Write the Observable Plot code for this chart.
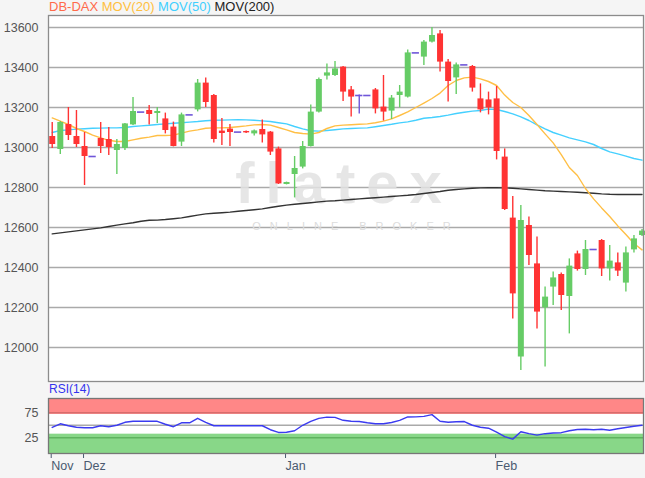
<!DOCTYPE html>
<html><head><meta charset="utf-8">
<script src="https://cdn.jsdelivr.net/npm/d3@7"></script>
<script src="https://cdn.jsdelivr.net/npm/@observablehq/plot@0.6"></script>
<style>
body{margin:0;background:#f5f5f5;font-family:"Liberation Sans",Arial,sans-serif;}
#wrap{position:relative;width:645px;height:478px;overflow:hidden}
#main{position:absolute;left:0;top:0}
#rsi{position:absolute;left:0;top:382px}
#legend{position:absolute;left:49px;top:-1px;font-size:13px;line-height:15px;white-space:nowrap}
#rsilabel{position:absolute;left:49px;top:383px;font-size:12px;line-height:13px;color:#3333ee}
</style></head><body>
<div id="wrap">
<div id="main"></div>
<div id="rsi"></div>
<div id="legend"><span style="color:#ff6a4a">DB-DAX</span> <span style="color:#ffbf40">MOV(20)</span> <span style="color:#3fcfff">MOV(50)</span> <span style="color:#222">MOV(200)</span></div>
<div id="rsilabel">RSI(14)</div>
</div>
<script>
// ---- data ----
const open  = [13055,12990,13115,13055,13005,12955,13045,13040,12985,12995,
               13113,13177,13185,13170,13143,13102,13027,13163,13188,13322,
               13260,13082,13092,13077,13080,13068,13090,13077,12993,12815,
               12865,12902,13005,13177,13357,13360,13402,13288,13260,13260,
               13288,13202,13182,13260,13252,13473,13452,13527,13568,13427,
               13348,13413,13405,13243,13238,13243,12952,12647,11952,12610,
               12418,12198,12302,12365,12255,12468,12390,12490,12535,12393,
               12423,12322,12488,12560];
const high  = [13125,13130,13200,13185,13075,12955,13125,13100,13040,13120,
               13250,13177,13210,13200,13172,13127,13172,13163,13340,13348,
               13265,13145,13115,13077,13082,13088,13138,13080,13002,12827,
               12955,13030,13213,13348,13418,13430,13405,13305,13262,13260,
               13295,13360,13260,13310,13488,13473,13535,13600,13585,13440,
               13422,13413,13410,13318,13277,13305,12993,12755,12710,12652,
               12552,12302,12377,12372,12443,12482,12535,12490,12540,12510,
               12472,12502,12560,12590];
const low   = [12995,12965,13035,13000,12810,12955,12970,12960,12865,12985,
               13110,13177,13113,13120,13068,13003,13005,13163,13178,13200,
               13022,13010,13005,13077,13070,13057,13022,12960,12815,12813,
               12748,12893,13003,13172,13338,13355,13230,13152,13168,13260,
               13168,13132,13140,13198,13248,13473,13410,13522,13377,13227,
               13265,13413,13277,13173,13163,12938,12685,12143,11885,12410,
               12093,11902,12210,12185,12068,12382,12360,12490,12355,12332,
               12355,12277,12473,12555];
const close = [13015,13125,13060,13015,12955,12955,13005,13000,13015,13118,
               13180,13177,13165,13180,13085,13005,13163,13163,13322,13225,
               13040,13070,13075,13077,13073,13083,13063,12977,12818,12825,
               12895,13005,13177,13340,13373,13393,13277,13252,13260,13260,
               13193,13177,13247,13277,13473,13473,13527,13560,13427,13330,
               13413,13413,13297,13188,13198,12980,12690,12268,12635,12460,
               12177,12252,12348,12260,12407,12390,12490,12490,12393,12432,
               12382,12473,12543,12582];
const mov20 = [13148,13132,13115,13095,13080,13062,13048,13036,13030,13030,
               13038,13046,13052,13060,13060,13062,13072,13082,13088,13096,
               13098,13098,13100,13104,13108,13113,13115,13112,13100,13088,
               13075,13070,13067,13075,13095,13108,13112,13114,13116,13118,
               13124,13132,13143,13160,13178,13200,13222,13245,13272,13310,
               13335,13348,13352,13343,13330,13310,13262,13225,13200,13160,
               13115,13068,13023,12964,12900,12860,12795,12743,12698,12655,
               12608,12565,12520,12488];
const mov50 = [13075,13085,13088,13092,13094,13096,13097,13098,13098,13100,
               13105,13108,13111,13115,13118,13121,13124,13127,13130,13134,
               13136,13137,13138,13139,13138,13136,13133,13130,13124,13118,
               13105,13093,13084,13082,13085,13089,13093,13095,13097,13098,
               13104,13110,13116,13123,13128,13136,13146,13150,13155,13162,
               13170,13176,13182,13185,13192,13190,13180,13168,13153,13135,
               13113,13093,13075,13062,13048,13038,13028,13015,12995,12978,
               12968,12957,12945,12937];
const mov200 = [12568,12573,12578,12583,12588,12593,12598,12605,12612,12618,
               12624,12631,12636,12637,12640,12644,12648,12655,12662,12668,
               12671,12674,12677,12681,12685,12689,12693,12700,12706,12712,
               12716,12720,12724,12728,12732,12734,12737,12740,12743,12746,
               12749,12752,12755,12758,12761,12765,12770,12775,12780,12786,
               12790,12793,12796,12798,12799,12799,12798,12796,12793,12790,
               12787,12784,12782,12780,12778,12776,12774,12771,12768,12766,
               12765,12765,12765,12765];
const rsi = [45.6,53,49,46,45,45,49,47,50,56,
             58,58,58,58,52,47,55,55,64,56,
             49,49,49,49,49,49,49,41,35.5,36,
             39,50,58,64,66.5,66,60,58,57.5,55,
             53,53,55.5,60,66.8,67,68,71.5,58,56,
             57,57.5,50,46,44,36,27,22,37,33,
             30,33,34.4,35,39,41.5,42,40.8,42,40,
             43,45.6,48,50];
const priceTicks = [12000,12200,12400,12600,12800,13000,13200,13400,13600];
const rsiTicks = [25,75];
const rsiLevels = [25,50,75];
const rsiBands = [{lo:72, hi:104, fill:"#ff8787"}, {lo:-7, hi:32, fill:"#88d788"}];
const monthIdx = [0,4,29,55];
const monthLabels = ["Nov","Dez","Jan","Feb"];

// ---- build ----
const xDomain = [-0.46, 73.18];
const candles = open.map((o,i) => ({i, o, h: high[i], l: low[i], c: close[i]}));
const col = d => d.c > d.o ? "#66cc66" : d.c < d.o ? "#ff3333" : "#6f56d9";
const font = "Liberation Sans, Arial, sans-serif";

const main = Plot.plot({
  width: 645, height: 382, marginLeft: 48, marginRight: 2, marginTop: 15, marginBottom: 1,
  style: {background: "transparent", fontFamily: font, overflow: "visible"},
  x: {domain: xDomain, axis: null},
  y: {domain: [11830, 13660], axis: null},
  color: {type: "identity"},
  marks: [
    Plot.frame({fill: "white", stroke: "none"}),
    Plot.gridY(priceTicks, {stroke: "#aaa", strokeOpacity: 1, strokeWidth: 1.5}),
    Plot.text(["flatex"], {frameAnchor: "middle", dx: -2, dy: -14, fontSize: 58, fontWeight: "bold", fill: "#e2e2e2", fillOpacity: 0.85}),
    Plot.text(["ONLINE BROKER"], {frameAnchor: "middle", dx: 10, dy: 28, fontSize: 11, fill: "#dcdcdc"}),
    Plot.axisY(priceTicks, {anchor: "left", tickSize: 0, tickPadding: 10, fontSize: 12.5, fill: "#555", tickFormat: d => String(d)}),
    Plot.lineY(mov200, {x: (d,i) => i, y: d => d, stroke: "#333", strokeWidth: 1.4}),
    Plot.lineY(mov50, {x: (d,i) => i, y: d => d, stroke: "#45d0ff", strokeWidth: 1.4}),
    Plot.lineY(mov20, {x: (d,i) => i, y: d => d, stroke: "#ffbf45", strokeWidth: 1.4}),
    Plot.ruleX(candles, {x: "i", y1: "l", y2: "h", stroke: col, strokeWidth: 1.4}),
    Plot.ruleX(candles.filter(d => d.o !== d.c), {x: "i", y1: "o", y2: "c", stroke: col, strokeWidth: 6}),
    Plot.ruleY(candles.filter(d => d.o === d.c), {x1: d => d.i - 0.45, x2: d => d.i + 0.45, y: "o", stroke: "#6f56d9", strokeWidth: 1.6}),
    Plot.frame({stroke: "#8c8c8c", strokeWidth: 1.3})
  ]
});
d3.select(main).selectAll("text").filter(function(){return this.textContent === "flatex";}).style("letter-spacing", "11px");
d3.select(main).selectAll("text").filter(function(){return this.textContent === "ONLINE BROKER";}).style("letter-spacing", "9px");
document.getElementById("main").appendChild(main);

const rsiPlot = Plot.plot({
  width: 645, height: 96, marginLeft: 48, marginRight: 2, marginTop: 16, marginBottom: 25,
  style: {background: "transparent", fontFamily: font, overflow: "visible"},
  x: {domain: xDomain, axis: null},
  y: {domain: [-7, 104], axis: null},
  marks: [
    Plot.frame({fill: "white", stroke: "none"}),
    Plot.rect(rsiBands, {x1: () => xDomain[0], x2: () => xDomain[1], y1: "lo", y2: "hi", fill: "fill"}),
    Plot.ruleY([rsiLevels[1]], {stroke: "#aaa", strokeWidth: 1.3}),
    Plot.ruleY([rsiLevels[2]], {stroke: "#d86c6c", strokeWidth: 1.5}),
    Plot.ruleY([rsiLevels[0]], {stroke: "#5fb35f", strokeWidth: 1.5}),
    Plot.lineY(rsi, {x: (d,i) => i, y: d => d, stroke: "#3b3bf0", strokeWidth: 1.4}),
    Plot.axisY(rsiTicks, {anchor: "left", tickSize: 0, tickPadding: 10, fontSize: 12.5, fill: "#555"}),
    Plot.axisX(monthIdx, {anchor: "bottom", tickSize: 5, tickPadding: 3, fontSize: 12.5, fill: "#4a5a70", stroke: "#4a5a70",
      textAnchor: "start", dx: -1, tickFormat: d => monthLabels[monthIdx.indexOf(d)]}),
    Plot.frame({stroke: "#777", strokeWidth: 1.3})
  ]
});
document.getElementById("rsi").appendChild(rsiPlot);
</script>
</body></html>
